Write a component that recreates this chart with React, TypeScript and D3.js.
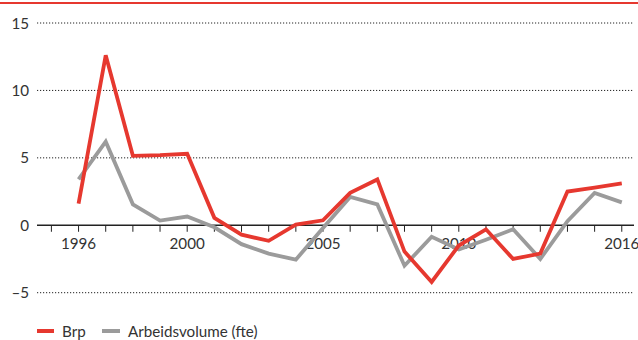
import React from "react";
import * as d3 from "d3";

const years = [1996, 1997, 1998, 1999, 2000, 2001, 2002, 2003, 2004, 2005, 2006, 2007, 2008, 2009, 2010, 2011, 2012, 2013, 2014, 2015, 2016];
const brp = [1.6, 12.6, 5.15, 5.2, 5.3, 0.55, -0.7, -1.15, 0.05, 0.37, 2.4, 3.4, -1.95, -4.2, -1.5, -0.3, -2.5, -2.1, 2.5, 2.8, 3.1];
const arbeidsvolume = [3.4, 6.2, 1.55, 0.35, 0.65, -0.15, -1.4, -2.1, -2.55, -0.2, 2.1, 1.55, -3.0, -0.85, -1.8, -1.07, -0.3, -2.5, 0.3, 2.4, 1.7];
const yTicks = [15, 10, 5, -5];
const xTickYears = [1995, 1996, 1997, 1998, 1999, 2000, 2001, 2002, 2003, 2004, 2005, 2006, 2007, 2008, 2009, 2010, 2011, 2012, 2013, 2014, 2015, 2016];
const xLabels = [1996, 2000, 2005, 2010, 2016];
const seriesNames = ["Brp", "Arbeidsvolume (fte)"];

const W = 638;
const H = 340;
const RED = "#e6382f";
const GREY = "#9b9b9b";
const FONT = "Lato, 'Open Sans', sans-serif";
const FS = 15.2;

export default function App() {
  const x = d3.scaleLinear().domain([1994.47, 2016.45]).range([37, 634]);
  const y = d3.scaleLinear().domain([-5, 15]).range([292.7, 23]);
  const line = d3
    .line<[number, number]>()
    .x((d) => x(d[0]))
    .y((d) => y(d[1]));
  const brpPts = years.map((yr, i) => [yr, brp[i]] as [number, number]);
  const avPts = years.map((yr, i) => [yr, arbeidsvolume[i]] as [number, number]);
  const fmt = (v: number) => (v < 0 ? "\u2013" + Math.abs(v) : String(v));

  return (
    <svg width={W} height={H} style={{ position: "absolute", left: 0, top: 0, background: "#fff" }} fontFamily={FONT}>
      <rect x={0} y={0} width={W} height={H} fill="#fff" />
      <line x1={0} x2={W} y1={3} y2={3} stroke={RED} strokeWidth={2} />
      {yTicks.map((t) => (
        <g key={t}>
          <line x1={37} x2={634} y1={y(t)} y2={y(t)} stroke="#222" strokeWidth={1} strokeDasharray="1.2,1.8" />
          <text x={29} y={y(t) + 5.5} fontSize={FS} fill="#333" textAnchor="end">
            {fmt(t)}
          </text>
        </g>
      ))}
      <text x={29} y={y(0) + 5.5} fontSize={FS} fill="#333" textAnchor="end">0</text>
      <line x1={37} x2={634} y1={y(0)} y2={y(0)} stroke="#222" strokeWidth={1.5} />
      {xTickYears.map((t) => (
        <line key={t} x1={x(t)} x2={x(t)} y1={y(0)} y2={y(0) + 6.5} stroke="#222" strokeWidth={1} />
      ))}
      {xLabels.map((t) => (
        <text key={t} x={x(t)} y={y(0) + 23.5} fontSize={FS} fill="#333" textAnchor="middle">
          {t}
        </text>
      ))}
      <path d={line(avPts) || ""} fill="none" stroke={GREY} strokeWidth={3.8} strokeLinejoin="miter" />
      <path d={line(brpPts) || ""} fill="none" stroke={RED} strokeWidth={3.8} strokeLinejoin="miter" />
      <line x1={37} x2={54} y1={331} y2={331} stroke={RED} strokeWidth={4} />
      <text x={62} y={336.5} fontSize={FS} fill="#333">{seriesNames[0]}</text>
      <line x1={102} x2={120} y1={331} y2={331} stroke={GREY} strokeWidth={4} />
      <text x={128} y={336.5} fontSize={FS} fill="#333">{seriesNames[1]}</text>
    </svg>
  );
}
